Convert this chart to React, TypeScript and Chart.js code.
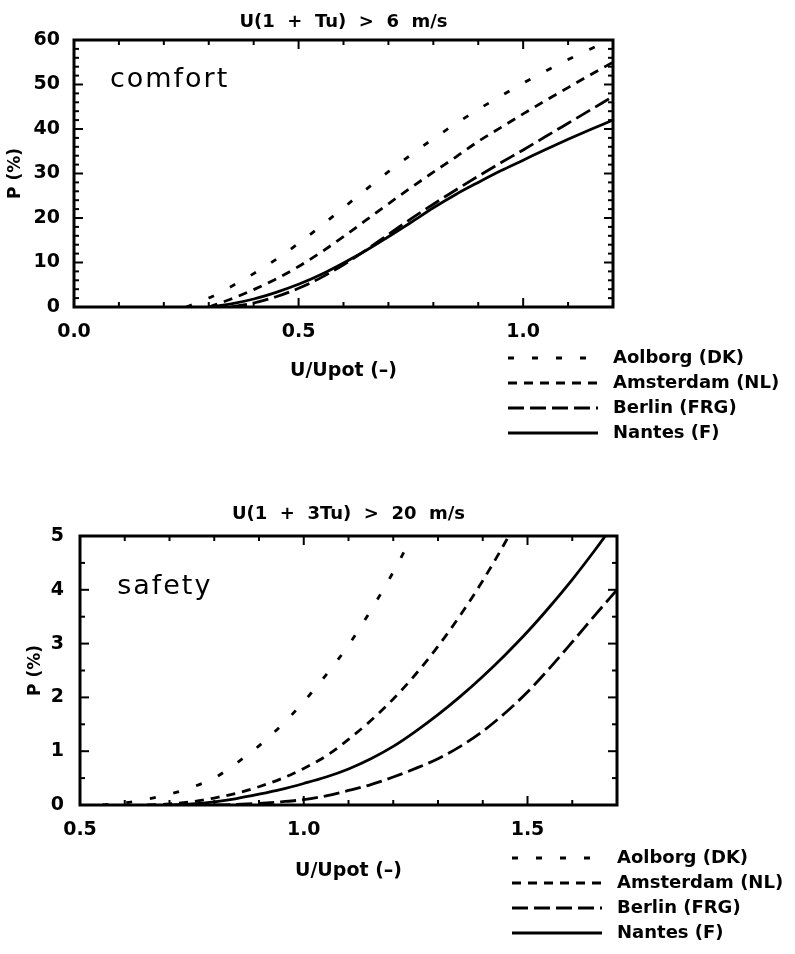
import React, { useEffect, useRef } from 'react';
import { Chart, registerables } from 'chart.js';

Chart.register(...registerables);

// ---------- data ----------
const seriesLabels = ['Aolborg (DK)', 'Amsterdam (NL)', 'Berlin (FRG)', 'Nantes (F)'];
const seriesDashes: number[][] = [[6, 18], [9, 7], [16, 6], []];

// comfort panel: U(1 + Tu) > 6 m/s
const comfortTitle = 'U(1  +  Tu)  >  6  m/s';
const comfortX = [0.25, 0.3, 0.35, 0.4, 0.45, 0.5, 0.55, 0.6, 0.65, 0.7, 0.75, 0.8, 0.85, 0.9, 0.95, 1.0, 1.05, 1.1, 1.15, 1.2];
const comfortAalborg = [0, 2.0, 4.6, 7.5, 10.7, 14.3, 18.2, 22.3, 26.4, 30.4, 34.2, 37.8, 41.2, 44.4, 47.4, 50.3, 53.0, 55.6, 58.0, 60.2];
const comfortAmsterdam = [null, 0, 1.8, 3.9, 6.3, 9.1, 12.3, 15.8, 19.5, 23.2, 26.8, 30.3, 33.7, 37.2, 40.3, 43.4, 46.4, 49.3, 52.2, 55.0];
const comfortBerlin = [null, null, 0, 0.9, 2.3, 4.2, 6.6, 9.5, 12.8, 16.3, 19.8, 23.1, 26.3, 29.4, 32.4, 35.3, 38.3, 41.3, 44.3, 47.3];
const comfortNantes = [null, 0, 0.7, 1.8, 3.3, 5.1, 7.3, 9.9, 12.7, 15.8, 19.0, 22.3, 25.3, 28.0, 30.6, 33.0, 35.4, 37.7, 39.9, 42.0];
const comfortXTicks = [0, 0.5, 1.0];

// safety panel: U(1 + 3Tu) > 20 m/s
const safetyTitle = 'U(1  +  3Tu)  >  20  m/s';
const safetyX = [0.55, 0.6, 0.65, 0.7, 0.75, 0.8, 0.85, 0.9, 0.95, 1.0, 1.05, 1.1, 1.15, 1.2, 1.25, 1.3, 1.35, 1.4, 1.45, 1.5, 1.55, 1.6, 1.65, 1.7];
const safetyAalborg = [0, 0.04, 0.11, 0.2, 0.33, 0.5, 0.78, 1.1, 1.48, 1.92, 2.42, 2.97, 3.62, 4.33, 5.12, null, null, null, null, null, null, null, null, null];
const safetyAmsterdam = [null, null, 0, 0.02, 0.06, 0.13, 0.22, 0.34, 0.49, 0.68, 0.91, 1.22, 1.57, 1.97, 2.43, 2.95, 3.53, 4.17, 4.88, 5.65, null, null, null, null];
const safetyBerlin = [null, null, null, null, null, 0, 0.01, 0.03, 0.06, 0.1, 0.17, 0.27, 0.38, 0.52, 0.68, 0.86, 1.09, 1.37, 1.71, 2.1, 2.55, 3.03, 3.52, 4.0];
const safetyNantes = [null, null, null, 0, 0.02, 0.06, 0.12, 0.2, 0.29, 0.4, 0.52, 0.67, 0.86, 1.09, 1.37, 1.68, 2.02, 2.39, 2.79, 3.22, 3.69, 4.19, 4.73, 5.3];
const safetyXTicks = [0.5, 1.0, 1.5];

const FONT = '"DejaVu Sans", "Liberation Sans", sans-serif';

// ---------- decoration plugin: frame, inward ticks, title, note, legend ----------
const decorPlugin = {
  id: 'decor',
  afterDatasetsDraw(chart: any, _args: any, o: any) {
    const { ctx, chartArea: a, scales } = chart;
    const xs = scales.x;
    const ys = scales.y;
    const line = (x1: number, y1: number, x2: number, y2: number) => {
      ctx.beginPath();
      ctx.moveTo(x1, y1);
      ctx.lineTo(x2, y2);
      ctx.stroke();
    };
    ctx.save();
    ctx.strokeStyle = '#000';
    ctx.fillStyle = '#000';
    ctx.setLineDash([]);
    ctx.lineWidth = 2;
    // x ticks (bottom + top, inward)
    const nx = Math.round((xs.max - xs.min) / o.xMinor);
    for (let i = 0; i <= nx; i++) {
      const v = xs.min + i * o.xMinor;
      const major = Math.abs(v / o.xMajor - Math.round(v / o.xMajor)) < 1e-6;
      const len = major ? 9 : 5;
      const px = xs.getPixelForValue(v);
      line(px, a.bottom, px, a.bottom - len);
      line(px, a.top, px, a.top + len);
    }
    const ny = Math.round((ys.max - ys.min) / o.yMinor);
    for (let i = 0; i <= ny; i++) {
      const v = ys.min + i * o.yMinor;
      const major = Math.abs(v / o.yMajor - Math.round(v / o.yMajor)) < 1e-6;
      const len = major ? 9 : 5;
      const py = ys.getPixelForValue(v);
      line(a.left, py, a.left + len, py);
      line(a.right, py, a.right - len, py);
    }
    // frame
    ctx.lineWidth = 3;
    ctx.strokeRect(a.left, a.top, a.right - a.left, a.bottom - a.top);

    // panel title
    ctx.font = `bold 18px ${FONT}`;
    ctx.textAlign = 'center';
    ctx.textBaseline = 'middle';
    ctx.fillText(o.title, (a.left + a.right) / 2, a.top - o.titleGap);

    // note inside plot
    ctx.font = `27px ${FONT}`;
    (ctx as any).letterSpacing = '2px';
    ctx.textAlign = 'left';
    ctx.fillText(o.note, xs.getPixelForValue(o.noteX), ys.getPixelForValue(o.noteY));
    (ctx as any).letterSpacing = '0px';

    // legend
    chart.data.datasets.forEach((ds: any, i: number) => {
      const y = a.bottom + o.legendTop + i * 25;
      ctx.lineWidth = ds.borderWidth;
      ctx.setLineDash(ds.borderDash || []);
      line(a.right - 105, y, a.right - 15, y);
      ctx.setLineDash([]);
      ctx.font = `bold 18px ${FONT}`;
      ctx.textAlign = 'left';
      ctx.fillText(ds.label, a.right, y);
    });
    ctx.restore();
  },
};

type PanelOpts = {
  xs: number[];
  series: (number | null)[][];
  xMin: number;
  xMax: number;
  yMax: number;
  yStep: number;
  xTicks: number[];
  padding: { top: number; left: number; right: number; bottom: number };
  yWidth: number;
  xHeight: number;
  yLabelPad: number;
  yTitlePad: number;
  xTitlePad: number;
  decor: any;
};

function makeConfig(p: PanelOpts): any {
  return {
    type: 'line',
    data: {
      datasets: p.series.map((vals, i) => ({
        label: seriesLabels[i],
        data: p.xs.map((x, j) => ({ x, y: vals[j] })),
        borderColor: '#000',
        borderWidth: 2.8,
        borderDash: seriesDashes[i],
        pointRadius: 0,
        fill: false,
        spanGaps: false,
        cubicInterpolationMode: 'monotone',
      })),
    },
    options: {
      responsive: false,
      animation: false,
      layout: { padding: p.padding },
      plugins: {
        legend: { display: false },
        title: { display: false },
        tooltip: { enabled: false },
        decor: p.decor,
      },
      scales: {
        x: {
          type: 'linear',
          min: p.xMin,
          max: p.xMax,
          grid: { display: false, drawTicks: false },
          border: { display: false },
          afterBuildTicks: (scale: any) => {
            scale.ticks = p.xTicks.map((value) => ({ value }));
          },
          afterFit: (scale: any) => {
            scale.height = p.xHeight;
          },
          ticks: {
            color: '#000',
            padding: 14,
            maxRotation: 0,
            font: { family: FONT, size: 19, weight: 'bold' },
            callback: (v: any) => Number(v).toFixed(1),
          },
          title: {
            display: true,
            text: 'U/Upot (–)',
            color: '#000',
            font: { family: FONT, size: 19, weight: 'bold' },
            padding: { top: 0, bottom: p.xTitlePad },
          },
        },
        y: {
          type: 'linear',
          min: 0,
          max: p.yMax,
          grid: { display: false, drawTicks: false },
          border: { display: false },
          afterFit: (scale: any) => {
            scale.width = p.yWidth;
          },
          ticks: {
            color: '#000',
            padding: p.yLabelPad,
            stepSize: p.yStep,
            font: { family: FONT, size: 19, weight: 'bold' },
          },
          title: {
            display: true,
            text: 'P (%)',
            color: '#000',
            font: { family: FONT, size: 17, weight: 'bold' },
            padding: { top: p.yTitlePad, bottom: 0 },
          },
        },
      },
    },
    plugins: [decorPlugin],
  };
}

function Panel({ cfg, width, height, top }: { cfg: PanelOpts; width: number; height: number; top: number }) {
  const ref = useRef<HTMLCanvasElement | null>(null);
  useEffect(() => {
    if (!ref.current) return;
    const chart = new Chart(ref.current, makeConfig(cfg));
    return () => chart.destroy();
  }, []);
  return (
    <canvas
      ref={ref}
      width={width}
      height={height}
      style={{ position: 'absolute', left: 0, top, width, height, display: 'block' }}
    />
  );
}

const comfortPanel: PanelOpts = {
  xs: comfortX,
  series: [comfortAalborg, comfortAmsterdam, comfortBerlin, comfortNantes],
  xMin: 0,
  xMax: 1.2,
  yMax: 60,
  yStep: 10,
  xTicks: comfortXTicks,
  padding: { top: 40, left: 0, right: 182, bottom: 83 },
  yWidth: 74,
  xHeight: 80,
  yLabelPad: 14,
  yTitlePad: 5,
  xTitlePad: 5,
  decor: {
    title: comfortTitle,
    titleGap: 18,
    note: 'comfort',
    noteX: 0.08,
    noteY: 51,
    legendTop: 51,
    xMinor: 0.1,
    xMajor: 0.5,
    yMinor: 2,
    yMajor: 10,
  },
};

const safetyPanel: PanelOpts = {
  xs: safetyX,
  series: [safetyAalborg, safetyAmsterdam, safetyBerlin, safetyNantes],
  xMin: 0.5,
  xMax: 1.7,
  yMax: 5,
  yStep: 1,
  xTicks: safetyXTicks,
  padding: { top: 66, left: 0, right: 178, bottom: 69 },
  yWidth: 80,
  xHeight: 80,
  yLabelPad: 16,
  yTitlePad: 25,
  xTitlePad: 3,
  decor: {
    title: safetyTitle,
    titleGap: 22,
    note: 'safety',
    noteX: 0.583,
    noteY: 4.05,
    legendTop: 53,
    xMinor: 0.1,
    xMajor: 0.5,
    yMinor: 0.5,
    yMajor: 1,
  },
};

export default function App() {
  return (
    <div style={{ position: 'absolute', left: 0, top: 0, width: 795, height: 954, background: '#fff', overflow: 'hidden' }}>
      <Panel cfg={comfortPanel} width={795} height={470} top={0} />
      <Panel cfg={safetyPanel} width={795} height={484} top={470} />
    </div>
  );
}
